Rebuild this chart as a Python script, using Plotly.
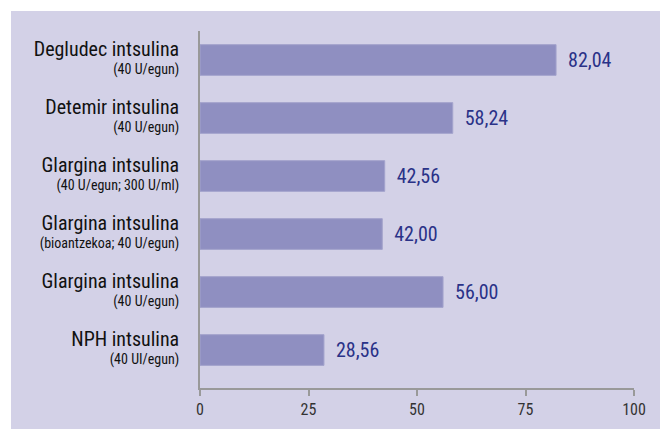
import plotly.graph_objects as go

names = ["Degludec intsulina", "Detemir intsulina", "Glargina intsulina",
         "Glargina intsulina", "Glargina intsulina", "NPH intsulina"]
subs = ["(40 U/egun)", "(40 U/egun)", "(40 U/egun; 300 U/ml)",
        "(bioantzekoa; 40 U/egun)", "(40 U/egun)", "(40 UI/egun)"]
values = [82.04, 58.24, 42.56, 42.00, 56.00, 28.56]
x_ticks = [0, 25, 50, 75, 100]

n = len(values)
ypos = [n - 1 - i for i in range(n)]
ticktext = [f"<span style='font-size:20px'>{a}</span><br>{b}" for a, b in zip(names, subs)]
labels = ["\u2002" + f"{v:.2f}".replace(".", ",") for v in values]

FONT = "Liberation Sans Narrow, Arial Narrow, Roboto Condensed, Liberation Sans, sans-serif"
BG = "#d3d1e7"

L, R, T, B = 200, 26, 31, 41
PW, PH = 660 - L - R, 429 - T - B
W = 11  # white border at left/top

fig = go.Figure(go.Bar(
    x=values, y=ypos, orientation="h",
    marker=dict(color="#8f8fc1", line=dict(color="#a3a3cc", width=1)),
    width=0.53,
    text=labels, textposition="outside", cliponaxis=False,
    textfont=dict(family=FONT, size=20, color="#2a3288"),
    hoverinfo="skip",
))

fig.update_layout(
    width=660, height=429,
    margin=dict(l=L, r=R, t=T, b=B, autoexpand=False),
    paper_bgcolor=BG, plot_bgcolor=BG,
    showlegend=False,
    font=dict(family=FONT),
    shapes=[
        dict(type="rect", xref="paper", yref="paper", layer="below",
             x0=-L / PW, x1=-(L - W) / PW, y0=-B / PH, y1=1 + T / PH,
             fillcolor="white", line=dict(width=0)),
        dict(type="rect", xref="paper", yref="paper", layer="below",
             x0=-L / PW, x1=1 + R / PW, y0=1 + (T - W) / PH, y1=1 + T / PH,
             fillcolor="white", line=dict(width=0)),
    ],
)
fig.update_xaxes(range=[0, 100], tickvals=x_ticks, showgrid=False, zeroline=False,
                 automargin=False,
                 showline=True, linecolor="#999999", linewidth=2,
                 ticks="outside", ticklen=6, tickcolor="#999999", tickwidth=2,
                 tickfont=dict(family=FONT, size=16, color="#333333"))
fig.update_yaxes(range=[-0.655, 5.5], tickvals=ypos, ticktext=ticktext,
                 automargin=False,
                 showgrid=False, zeroline=False, showline=True,
                 linecolor="#999999", linewidth=2, ticks="",
                 ticklabelstandoff=16,
                 tickfont=dict(family=FONT, size=14, color="#111111"))

fig.write_html("out.html", config={"displayModeBar": False},
               post_script="document.body.style.margin='0';document.body.style.padding='0';")
